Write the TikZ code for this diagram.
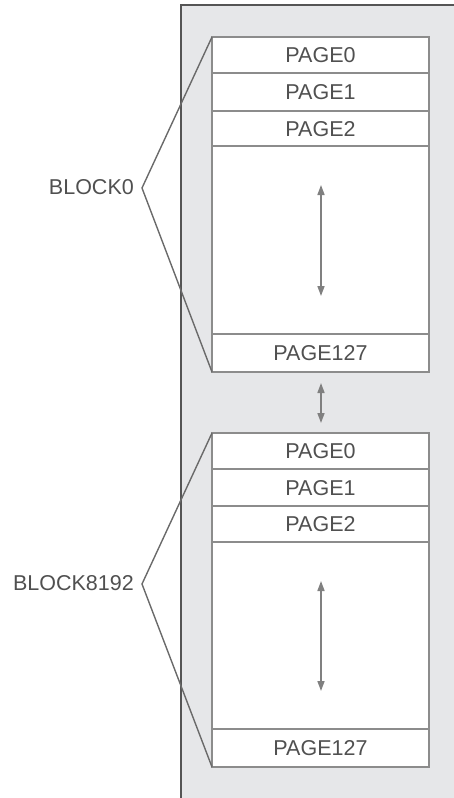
\documentclass[tikz,border=0pt]{standalone}
\usepackage{fontspec}
\setmainfont{Liberation Sans}
\usetikzlibrary{arrows.meta}
\definecolor{panelfill}{HTML}{E6E7E9}
\definecolor{paneledge}{HTML}{555555}
\definecolor{blockedge}{HTML}{8C8C8C}
\definecolor{txt}{HTML}{505050}
\definecolor{brk}{HTML}{6A6A6A}
\definecolor{arr}{HTML}{808080}
\tikzset{
  pagefill/.style={fill=white},
  pagebox/.style={draw=blockedge, line width=2pt},
  divline/.style={draw=blockedge, line width=2pt},
  pagelabel/.style={text=txt, font=\fontsize{21.5}{24}\selectfont, inner sep=0pt},
  blocklabel/.style={text=txt, font=\fontsize{21.5}{24}\selectfont, inner sep=0pt, anchor=east},
  bracket/.style={draw=brk, line width=1.4pt},
  dblarrow/.style={draw=arr, line width=1.6pt, {Triangle[length=10pt,width=7pt]}-{Triangle[length=10pt,width=7pt]}},
}
\begin{document}
\begin{tikzpicture}[x=1pt,y=-1pt]
\useasboundingbox (0,0) rectangle (454,798);
% panel
\fill[fill=panelfill] (181,5) rectangle (454,798);
\draw[paneledge, line width=2.2pt] (181,800) -- (181,5) -- (456,5);

% ---------- Block 0 ----------
\filldraw[pagebox, fill=white] (212,37) rectangle (429,372);
\draw[divline] (212,73) -- (429,73);
\draw[divline] (212,111) -- (429,111);
\draw[divline] (212,146) -- (429,146);
\draw[divline] (212,334) -- (429,334);
\node[pagelabel] (b0p0) at (320.5,55.5) {PAGE0};
\node[pagelabel] (b0p1) at (320.5,92.5) {PAGE1};
\node[pagelabel] (b0p2) at (320.5,129.5) {PAGE2};
\node[pagelabel] (b0p127) at (320.5,353.5) {PAGE127};
\coordinate (b0top) at (212,37);
\coordinate (b0bot) at (212,372);
\coordinate (b0at) at (321,185);
\coordinate (b0ab) at (321,296);
\draw[dblarrow] (b0at) -- (b0ab);

% bracket 0
\node[blocklabel] (blk0) at (134,187.5) {BLOCK0};
\coordinate (apex0) at (142,188);
\draw[bracket] (b0top) -- (apex0) -- (b0bot);

% between blocks
\coordinate (mida) at (321,383);
\coordinate (midb) at (321,423);
\draw[dblarrow] (mida) -- (midb);

% ---------- Block 8192 ----------
\filldraw[pagebox, fill=white] (212,433) rectangle (429,767);
\draw[divline] (212,469) -- (429,469);
\draw[divline] (212,506) -- (429,506);
\draw[divline] (212,542) -- (429,542);
\draw[divline] (212,729) -- (429,729);
\node[pagelabel] (b1p0) at (320.5,451.5) {PAGE0};
\node[pagelabel] (b1p1) at (320.5,488.5) {PAGE1};
\node[pagelabel] (b1p2) at (320.5,524.5) {PAGE2};
\node[pagelabel] (b1p127) at (320.5,748.5) {PAGE127};
\coordinate (b1top) at (212,433);
\coordinate (b1bot) at (212,767);
\coordinate (b1at) at (321,581);
\coordinate (b1ab) at (321,691);
\draw[dblarrow] (b1at) -- (b1ab);

% bracket 8192
\node[blocklabel] (blk1) at (134,583.5) {BLOCK8192};
\coordinate (apex1) at (142,584);
\draw[bracket] (b1top) -- (apex1) -- (b1bot);
\end{tikzpicture}
\end{document}
